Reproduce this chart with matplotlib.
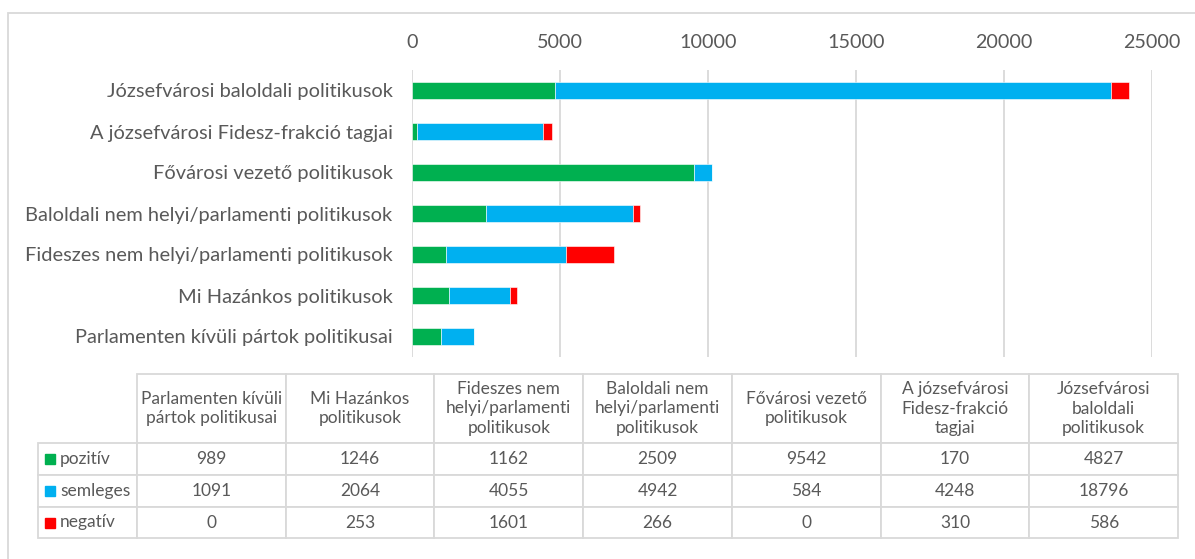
import textwrap
import numpy as np
import matplotlib.pyplot as plt
from matplotlib.patches import Rectangle

# data (table order = bottom-to-top order of the bars)
categories = [
    "Parlamenten kívüli pártok politikusai",
    "Mi Hazánkos politikusok",
    "Fideszes nem helyi/parlamenti politikusok",
    "Baloldali nem helyi/parlamenti politikusok",
    "Fővárosi vezető politikusok",
    "A józsefvárosi Fidesz-frakció tagjai",
    "Józsefvárosi baloldali politikusok",
]
series_names = ["pozitív", "semleges", "negatív"]
pozitiv = [989, 1246, 1162, 2509, 9542, 170, 4827]
semleges = [1091, 2064, 4055, 4942, 584, 4248, 18796]
negativ = [0, 253, 1601, 266, 0, 310, 586]
x_ticks = [0, 5000, 10000, 15000, 20000, 25000]

colors = ["#00B050", "#00B0F0", "#FF0000"]
text_col = "#595959"
grid_col = "#d9d9d9"

plt.rcParams['font.family'] = ['Lato', 'DejaVu Sans']

W, H = 1195, 559
fig = plt.figure(figsize=(W / 100, H / 100), dpi=100)

# outer chart frame (only left and top edges show)
fig.patches.append(Rectangle((8 / W, -0.2), 1.2, 1.2 - 13 / H, transform=fig.transFigure,
                             fill=False, edgecolor=grid_col, lw=1.3))

# bar chart
ax = fig.add_axes([412 / W, 1 - 357 / H, (1152 - 412) / W, (357 - 70) / H])
y = np.arange(len(categories))
left = np.zeros(len(categories))
for vals, c in zip([pozitiv, semleges, negativ], colors):
    ax.barh(y, vals, left=left, height=0.41, color=c, edgecolor="white", lw=0.4, zorder=3)
    left += np.array(vals)

ax.set_xlim(0, 25000)
ax.set_ylim(-0.5, len(categories) - 0.5)
ax.set_xticks(x_ticks)
ax.set_xticklabels([str(t) for t in x_ticks])
ax.xaxis.tick_top()
ax.set_yticks(y)
ax.set_yticklabels(categories)
ax.tick_params(axis='x', length=0, pad=14, labelsize=14.2, labelcolor=text_col)
ax.tick_params(axis='y', length=0, pad=14, labelsize=14.4, labelcolor=text_col)
ax.grid(axis='x', color=grid_col, lw=1.3, zorder=0)
for s in ax.spines.values():
    s.set_visible(False)

# data table below
tab_l, tab_r, tab_t, tab_b = 38, 1178, 374, 538
tax = fig.add_axes([tab_l / W, 1 - tab_b / H, (tab_r - tab_l) / W, (tab_b - tab_t) / H])
tax.axis('off')

col_w = [99] + [148.7] * len(categories)
row_h = [69, 32, 32, 31]

cell_text = [[""] + [textwrap.fill(c, 18) for c in categories]]
for name, vals in zip(series_names, [pozitiv, semleges, negativ]):
    cell_text.append([name] + [str(v) for v in vals])

tbl = tax.table(cellText=cell_text, bbox=[0, 0, 1, 1], cellLoc='center')
tbl.auto_set_font_size(False)
tbl.set_fontsize(12.5)
for (r, c), cell in tbl.get_celld().items():
    cell.set_width(col_w[c])
    cell.set_height(row_h[r])
    cell.set_edgecolor(grid_col)
    cell.set_linewidth(1.3)
    cell.get_text().set_color(text_col)
    cell.get_text().set_linespacing(1.3)
    if r == 0 and c == 0:
        cell.visible_edges = 'open'
    if c == 0 and r > 0:
        cell.PAD = 22 / 99
        cell.get_text().set_ha('left')
        cell._loc = 'left'

# legend keys in the row labels
tot_w = sum(col_w)
tot_h = sum(row_h)
ytop = tot_h - row_h[0]
for i, c in enumerate(colors):
    yc = ytop - row_h[i + 1] / 2
    tax.add_patch(Rectangle((7 / tot_w, (yc - 5) / tot_h), 10 / tot_w, 10 / tot_h,
                            transform=tax.transAxes, color=c, clip_on=False))
    ytop -= row_h[i + 1]

fig.savefig("out.png", dpi=100)
